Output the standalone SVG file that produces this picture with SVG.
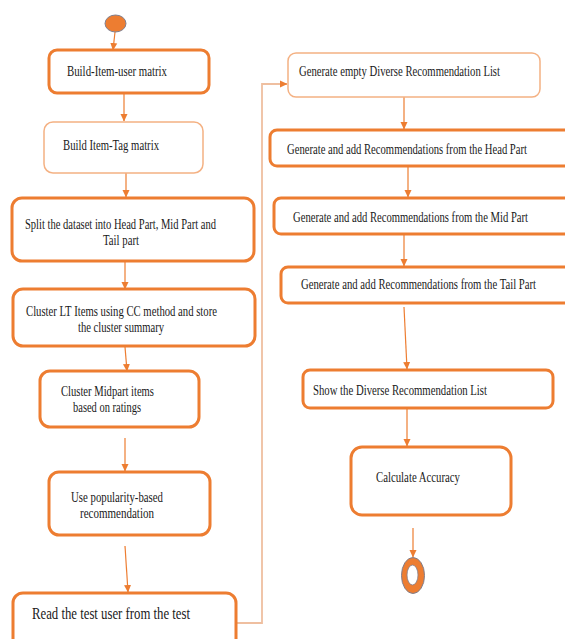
<svg xmlns="http://www.w3.org/2000/svg" width="565" height="639" viewBox="0 0 565 639">
<style>
.bx{fill:#fff;stroke:#ED7D31;stroke-width:3}
.lt{fill:#fff;stroke:#F4B183;stroke-width:1.5}
.t{font-family:"Liberation Serif","Times New Roman",serif;font-size:14px;fill:#1a1a1a}
.c{fill:none;stroke:#ED7D31;stroke-width:1.2}
.cl{fill:none;stroke:#EFBFA0;stroke-width:1.8}
</style>
<defs>
<marker id="ah" markerWidth="8" markerHeight="8" refX="7" refY="4" orient="auto" markerUnits="userSpaceOnUse">
<path d="M0,0.5 L7.5,4 L0,7.5 Z" fill="#ED7D31"/>
</marker>
</defs>
<rect width="565" height="639" fill="#fff"/>
<g id="connectors">
<line class="c" x1="115" y1="32" x2="113" y2="50" marker-end="url(#ah)"/>
<line class="c" x1="124" y1="93" x2="124" y2="121" marker-end="url(#ah)"/>
<line class="c" x1="126" y1="167" x2="126" y2="197" marker-end="url(#ah)"/>
<line class="c" x1="125" y1="262" x2="125" y2="289" marker-end="url(#ah)"/>
<line class="c" x1="125" y1="347" x2="127" y2="371" marker-end="url(#ah)"/>
<line class="c" x1="125" y1="438" x2="125" y2="471" marker-end="url(#ah)"/>
<line class="c" x1="125" y1="546" x2="128" y2="592" marker-end="url(#ah)"/>
<polyline class="cl" points="236,623 262,623 262,84 280,84"/>
<line class="c" x1="280" y1="84" x2="287" y2="84" marker-end="url(#ah)"/>
<line class="c" x1="404" y1="97" x2="404" y2="129" marker-end="url(#ah)"/>
<line class="c" x1="408" y1="166" x2="408" y2="197" marker-end="url(#ah)"/>
<line class="c" x1="404" y1="234" x2="404" y2="266" marker-end="url(#ah)"/>
<line class="c" x1="404" y1="307" x2="407" y2="369" marker-end="url(#ah)"/>
<line class="c" x1="407" y1="408" x2="407" y2="446" marker-end="url(#ah)"/>
<line class="c" x1="413" y1="528" x2="413" y2="557" marker-end="url(#ah)"/>
</g>
<g id="start"><ellipse cx="115.5" cy="23.5" rx="10.5" ry="8.5" fill="#ED7D31" stroke="#7F7F8F" stroke-width="1"/></g>
<g id="n1"><rect class="bx" x="49" y="50" width="160" height="43" rx="8"/><text class="t" x="67" y="76" textLength="100" lengthAdjust="spacingAndGlyphs">Build-Item-user matrix</text></g>
<g id="n2"><rect class="lt" x="44" y="122" width="159" height="51" rx="9"/><text class="t" x="63" y="150" textLength="96" lengthAdjust="spacingAndGlyphs">Build Item-Tag matrix</text></g>
<g id="n3"><rect class="bx" x="12" y="198" width="242" height="63" rx="10"/><text class="t" x="25" y="229" textLength="191" lengthAdjust="spacingAndGlyphs">Split the dataset into Head Part, Mid Part and</text><text class="t" x="103" y="245" textLength="36" lengthAdjust="spacingAndGlyphs">Tail part</text></g>
<g id="n4"><rect class="bx" x="13" y="289" width="242" height="57" rx="10"/><text class="t" x="26" y="316" textLength="191" lengthAdjust="spacingAndGlyphs">Cluster LT Items using CC method and store</text><text class="t" x="78" y="332" textLength="86" lengthAdjust="spacingAndGlyphs">the cluster summary</text></g>
<g id="n5"><rect class="bx" x="40" y="371" width="159" height="56" rx="10"/><text class="t" x="61" y="396" textLength="93" lengthAdjust="spacingAndGlyphs">Cluster Midpart items</text><text class="t" x="73" y="412" textLength="68" lengthAdjust="spacingAndGlyphs">based on ratings</text></g>
<g id="n6"><rect class="bx" x="49" y="472" width="161" height="63" rx="10"/><text class="t" x="71" y="502" textLength="92" lengthAdjust="spacingAndGlyphs">Use popularity-based</text><text class="t" x="80" y="518" textLength="74" lengthAdjust="spacingAndGlyphs">recommendation</text></g>
<g id="n7"><path class="bx" d="M13,639 V603 A10,10 0 0 1 23,593 H226 A10,10 0 0 1 236,603 V639"/><text class="t" x="32" y="619" style="font-size:16.5px" textLength="158" lengthAdjust="spacingAndGlyphs">Read the test user from the test</text></g>
<g id="n8"><rect class="lt" x="288" y="53" width="252" height="44" rx="8"/><text class="t" x="299" y="76" textLength="201" lengthAdjust="spacingAndGlyphs">Generate empty Diverse Recommendation List</text></g>
<g id="n9"><path class="bx" d="M565,130 H277 A7,7 0 0 0 270,137 V159 A7,7 0 0 0 277,166 H565"/><text class="t" x="287" y="154" textLength="240" lengthAdjust="spacingAndGlyphs">Generate and add Recommendations from the Head Part</text></g>
<g id="n10"><path class="bx" d="M565,198 H281 A7,7 0 0 0 274,205 V227 A7,7 0 0 0 281,234 H565"/><text class="t" x="293" y="222" textLength="235" lengthAdjust="spacingAndGlyphs">Generate and add Recommendations from the Mid Part</text></g>
<g id="n11"><path class="bx" d="M565,267 H288 A7,7 0 0 0 281,274 V296 A7,7 0 0 0 288,303 H565"/><text class="t" x="301" y="289" textLength="235" lengthAdjust="spacingAndGlyphs">Generate and add Recommendations from the Tail Part</text></g>
<g id="n12"><rect class="bx" x="303" y="370" width="250" height="38" rx="7"/><text class="t" x="313" y="395" textLength="174" lengthAdjust="spacingAndGlyphs">Show the Diverse Recommendation List</text></g>
<g id="n13"><rect class="bx" x="351" y="447" width="160" height="68" rx="11"/><text class="t" x="376" y="482" textLength="84" lengthAdjust="spacingAndGlyphs">Calculate Accuracy</text></g>
<g id="end"><ellipse cx="413" cy="575.5" rx="11.5" ry="18" fill="#ED7D31" stroke="#7F7F8F" stroke-width="1"/><ellipse cx="412.5" cy="575" rx="5.5" ry="10" fill="#fff" stroke="#7F7F8F" stroke-width="0.8"/></g>
</svg>
